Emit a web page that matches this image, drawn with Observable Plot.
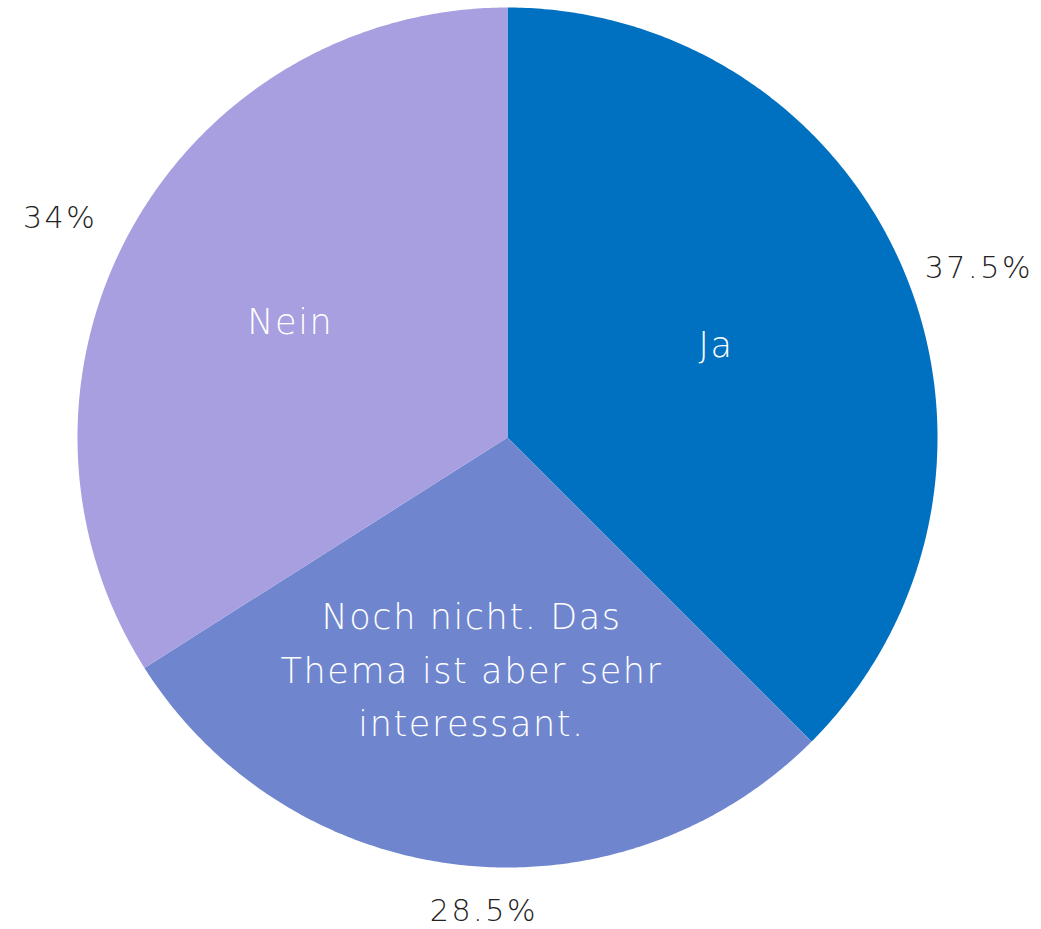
<!DOCTYPE html>
<html>
<head>
<meta charset="utf-8">
<script src="https://cdn.jsdelivr.net/npm/d3@7"></script>
<script src="https://cdn.jsdelivr.net/npm/@observablehq/plot@0.6"></script>
<style>
  html, body { margin: 0; padding: 0; background: #ffffff; }
  #chart { width: 1041px; height: 929px; }
  .inner-lbl text { letter-spacing: 1.6px; }
  .outer-lbl text { letter-spacing: 2.6px; }
</style>
</head>
<body>
<div id="chart"></div>
<script>
const categories = ["Ja", "Noch nicht. Das\nThema ist aber sehr\ninteressant.", "Nein"];
const values = [37.5, 28.5, 34];
const valueLabels = ["37.5%", "28.5%", "34%"];
const colors = ["#0070C0", "#6F86CF", "#A79FE0"];

const total = d3.sum(values);
let acc = 0;
const slices = categories.map((c, i) => {
  const a0 = acc / total * 2 * Math.PI;
  acc += values[i];
  const a1 = acc / total * 2 * Math.PI;
  return {cat: c, label: valueLabels[i], a0, a1, mid: (a0 + a1) / 2};
});

// polygon points for each slice (unit circle, angle clockwise from top)
const pts = [];
for (const s of slices) {
  pts.push({cat: s.cat, x: 0, y: 0});
  const n = Math.max(2, Math.ceil((s.a1 - s.a0) / (Math.PI / 360)));
  for (let k = 0; k <= n; k++) {
    const a = s.a0 + (s.a1 - s.a0) * k / n;
    pts.push({cat: s.cat, x: Math.sin(a), y: Math.cos(a)});
  }
  pts.push({cat: s.cat, x: 0, y: 0});
}

const inner = slices.map(s => ({cat: s.cat, x: 0.55 * Math.sin(s.mid), y: 0.55 * Math.cos(s.mid)}));
const outer = slices.map(s => ({label: s.label, sx: Math.sin(s.mid), x: 1.03 * Math.sin(s.mid), y: 1.03 * Math.cos(s.mid)}));

const font = "'DejaVu Sans', sans-serif";
const cx = 507, cy = 437, R = 430;

const chart = Plot.plot({
  width: 1041,
  height: 929,
  margin: 0,
  style: {background: "#ffffff", fontFamily: font},
  x: {domain: [-1, 1], range: [cx - R, cx + R], axis: null},
  y: {domain: [-1, 1], range: [cy + R, cy - R], axis: null},
  color: {domain: categories, range: colors},
  marks: [
    Plot.line(pts, {x: "x", y: "y", z: "cat", fill: "cat", stroke: "none", curve: "linear"}),
    Plot.text(inner, {x: "x", y: "y", text: "cat", fill: "white", fontSize: 35, fontWeight: 200, lineHeight: 1.52, dx: -10, dy: -7, fontFamily: font, className: "inner-lbl"}),
    Plot.text(outer.filter(d => d.sx > 0.3), {x: "x", y: "y", text: "label", textAnchor: "start", dx: 8, fill: "#222", fontSize: 30, fontWeight: 200, fontFamily: font, className: "outer-lbl"}),
    Plot.text(outer.filter(d => d.sx < -0.3), {x: "x", y: "y", text: "label", textAnchor: "end", dx: -22, dy: -6, fill: "#222", fontSize: 30, fontWeight: 200, fontFamily: font, className: "outer-lbl"}),
    Plot.text(outer.filter(d => Math.abs(d.sx) <= 0.3), {x: "x", y: "y", text: "label", textAnchor: "middle", dx: 25, dy: 34, fill: "#222", fontSize: 30, fontWeight: 200, fontFamily: font, className: "outer-lbl"})
  ]
});
document.getElementById("chart").appendChild(chart);
</script>
</body>
</html>
